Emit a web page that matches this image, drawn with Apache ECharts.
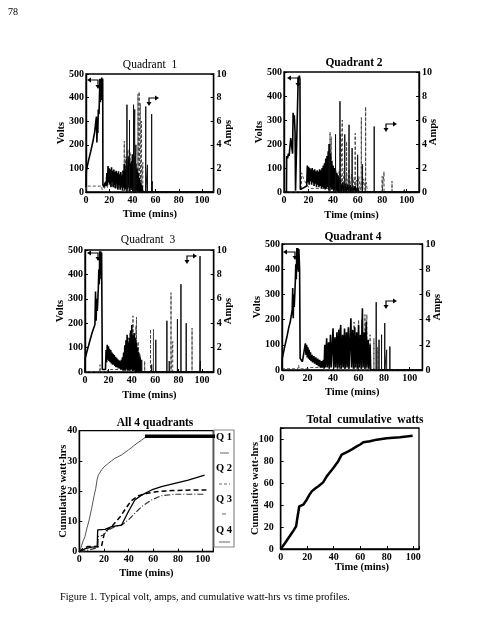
<!DOCTYPE html>
<html><head><meta charset="utf-8">
<script src="https://cdn.jsdelivr.net/npm/echarts@6.0.0/dist/echarts.min.js"></script>
<style>html,body{margin:0;padding:0;background:#fff}#c{width:500px;height:638px}</style>
</head><body><div id="c"></div><script>
// ---------- DATA (time in minutes) ----------
const xTicks = [0, 20, 40, 60, 80, 100];
// Quadrant 1
const q1Volts = [[0,20],[0.3,90],[2,130],[4,170],[6,215],[7.5,255],[8.5,300],[9,320],[9.4,210],[9.8,300],[10.2,250],[10.6,350],[11.2,330],[11.6,400],[12,480],[12.4,380],[12.8,480],[13.2,390],[13.6,485],[14,400],[14.4,480],[14.6,30],[15.5,20],[16.5,40],[17.5,25],[18,80],[18.5,30],[19,110],[19.5,40],[20,100],[20.5,35],[21,95],[21.5,20],[22,105],[22.5,40],[23,90],[23.5,20],[24,95],[24.5,30],[25,85],[25.5,15],[26,90],[26.5,35],[27,80],[27.5,10],[28,88],[28.5,30],[29,75],[29.5,10],[30,85],[30.5,25],[31,70],[31.5,5],[32,90],[32.5,20],[33,120],[33.5,10],[34,100],[34.5,15],[35,140],[35.5,10],[36,110],[36.5,20],[37,150],[37.5,5],[38,120],[38.5,15],[39,130],[39.5,10],[40,160],[40.5,5],[41,140],[41.5,10],[42,150],[42.5,0],[43,120],[43.5,5],[44,100],[44.5,0],[45,80],[45.5,0],[46,60],[46.5,0],[47,40],[47.5,0],[48,30],[49,0],[110,0]];
const q1VSpikeT = [35.3, 37.5, 41, 42, 43, 51.5, 53, 56.6, 57.2];
const q1VSpikeV = [370, 305, 370, 350, 200, 362, 115, 330, 45];
const q1Amps = [[0,0.2],[0.3,0.5],[13.5,0.5],[13.8,0.2],[14.5,0.1],[16,0.3],[18,1.5],[18.5,0.3],[19.5,1.9],[20.5,0.5],[21.5,1.7],[22.5,0.4],[23.5,1.6],[24.5,0.3],[25.5,1.7],[26.5,0.4],[27.5,1.6],[28.5,0.3],[29.5,1.5],[30.5,0.3],[31.5,1.8],[32.5,0.3],[34,2.2],[35,0.3],[36,2.6],[37,0.2],[38,2.4],[39,0.2],[40,2.0],[41,0.1],[43,1.5],[44,0],[110,0]];
const q1ASpikeT = [33, 34.5, 36.2, 38, 39.2, 44.8, 45.8, 46.8, 47.8, 49];
const q1ASpikeA = [4.3, 3.0, 3.6, 3.4, 2.6, 8.3, 8.5, 7.5, 6.0, 2.5];
// Quadrant 2
const q2Volts = [[0,0],[2,0],[2.2,150],[3,140],[3.5,160],[4.2,150],[4.5,170],[5.2,165],[5.5,225],[6.2,220],[6.7,230],[7,160],[7.4,330],[8,300],[8.4,320],[9,250],[9.4,5],[11,5],[11.6,480],[12,470],[12.5,485],[13,470],[13.3,10],[14,5],[18.5,25],[19,110],[19.5,40],[20,105],[20.5,30],[21,100],[21.5,45],[22,95],[22.5,30],[23,100],[23.5,40],[24,90],[24.5,25],[25,95],[25.5,35],[26,85],[26.5,20],[27,90],[27.5,30],[28,85],[28.5,20],[29,95],[29.5,25],[30,90],[30.5,15],[31,100],[31.5,20],[32,110],[32.5,15],[33,120],[33.5,10],[34,140],[34.5,15],[35,150],[35.5,20],[36,170],[36.5,10],[37,200],[37.5,20],[38,160],[38.5,10],[39,130],[39.5,10],[40,110],[40.5,5],[41,100],[41.5,5],[42,90],[42.5,5],[43,80],[43.5,0],[44,70],[44.5,0],[45,60],[45.5,0],[46,50],[46.5,0],[48,40],[48.5,0],[50,35],[50.5,0],[52,30],[52.5,0],[54,30],[54.5,0],[56,25],[56.5,0],[58,25],[58.5,0],[60,20],[61,0],[110,0]];
const q2VSpikeT = [36.7, 42, 45.6, 49.5, 53, 55.5, 60, 64, 73.5, 98];
const q2VSpikeV = [200, 240, 378, 240, 280, 183, 155, 115, 273, 10];
const q2Amps = [[0,0],[14,0],[14.4,1.6],[16,1.1],[18,0.7],[20,0.4],[22,0.3],[40,0.3],[41,1.2],[42,0.2],[43,1.5],[44,0.3],[45,1.8],[46,0.2],[47,1.4],[48,0.3],[49,2.0],[50,0.2],[51,1.6],[52,0.3],[53,1.9],[54,0.2],[55,1.5],[56,0.3],[57,1.2],[58,0.2],[59,1.0],[60,0.2],[61,1.3],[62,0.1],[63,0.9],[64,0.1],[65,1.1],[66,0.1],[67,0.8],[68,0],[110,0]];
const q2ASpikeT = [37.5, 38.5, 46, 47.5, 51, 58, 63, 66.5, 80, 81.5, 88];
const q2ASpikeA = [5.0, 4.6, 4.8, 6.0, 4.2, 4.9, 6.2, 7.1, 1.3, 1.7, 0.9];
// Quadrant 3
const q3Volts = [[0,0],[0.2,57],[2,90],[4,125],[6,160],[8.5,195],[9,330],[9.5,210],[10,300],[10.5,250],[11.4,343],[11.8,420],[12.2,360],[12.6,495],[13,400],[13.4,495],[13.8,380],[14.2,490],[14.8,10],[16,5],[17.5,10],[18,90],[18.5,40],[19,112],[19.5,50],[20,105],[20.5,45],[21,95],[21.5,40],[22,90],[22.5,35],[23,80],[23.5,30],[24,75],[24.5,30],[25,70],[25.5,25],[26,62],[26.5,20],[27,58],[27.5,20],[28,52],[28.5,15],[29,48],[29.5,15],[30,44],[30.5,10],[31,50],[31.5,10],[32,60],[32.5,5],[33,80],[33.5,5],[34,110],[34.5,5],[35,130],[35.5,10],[36,153],[36.5,5],[37,120],[37.5,5],[38,140],[38.5,5],[39,170],[39.5,10],[40,193],[40.5,5],[41,150],[41.5,5],[42,160],[42.5,5],[43,140],[43.5,0],[44,120],[44.5,0],[45,100],[45.5,0],[46,80],[46.5,0],[47,60],[48,0],[110,0]];
const q3VSpikeT = [48.5, 57, 60.5, 70, 72, 79, 82, 86.5, 98.3, 98.6];
const q3VSpikeV = [50, 30, 132, 210, 45, 217, 360, 200, 475, 45];
const q3Amps = [[0,0],[12.5,0],[12.8,0.6],[13.2,0],[18,0],[20,0.2],[30,0.2],[33,0.3],[34,2.0],[34.5,0.3],[35.5,2.5],[36,0.4],[37,2.8],[37.5,0.3],[38.5,3.2],[39,0.3],[40,3.6],[40.5,0.2],[42,3.0],[42.5,0.3],[43.5,3.8],[44.5,0.3],[45.5,2.5],[46,0.2],[47,1.5],[47.5,0],[110,0]];
const q3ASpikeT = [41, 44, 51, 56, 58.5, 73.5, 75, 91.5];
const q3ASpikeA = [4.6, 4.5, 0.9, 3.5, 3.5, 6.5, 2.5, 3.6];
// Quadrant 4
const q4Volts = [[0,0],[0.2,46],[2,90],[4,135],[5.2,166],[6.5,192],[8,240],[8.4,325],[8.8,205],[9.2,300],[9.6,250],[10.4,345],[10.8,420],[11.2,360],[11.6,484],[12,400],[12.4,484],[12.8,390],[13.2,480],[13.8,400],[14.2,46],[15,40],[16,33],[17.5,30],[18.3,106],[18.8,60],[19.3,100],[19.8,50],[20.3,90],[20.8,45],[21.3,80],[21.8,40],[22.3,70],[22.8,35],[23.5,60],[24,30],[25,55],[25.5,25],[26.5,50],[27,20],[28,45],[28.5,15],[29.5,40],[30,10],[31,35],[31.5,10],[32.5,40],[33,5],[33.5,100],[34,10],[35,126],[35.5,10],[36.5,110],[37,5],[38,140],[38.5,10],[40,166],[40.5,5],[41.5,130],[42,10],[43,150],[43.5,5],[44.5,160],[45,10],[46,179],[46.5,5],[47.5,140],[48,10],[49,165],[49.5,5],[50.5,150],[51,10],[52,170],[52.5,5],[54,205],[54.5,10],[55.5,160],[56,5],[57,170],[57.5,10],[58.5,150],[59,5],[60,180],[60.5,10],[61.5,140],[62,5],[63,245],[63.5,10],[64.5,150],[65,5],[66,190],[66.5,10],[67.5,120],[68,5],[69,100],[69.5,0],[110,0]];
const q4VSpikeT = [73.8, 76, 78, 80.5, 82, 84.5];
const q4VSpikeV = [269, 120, 140, 186, 80, 93];
const q4Amps = [[0,0.1],[12.5,0.1],[13,0.4],[13.5,0.1],[20,0.1],[22,0.2],[32,0.2],[33,0],[110,0]];
const q4ASpikeT = [45.5, 49, 52, 56.5, 60, 62.5, 65, 66.5, 69, 72, 75];
const q4ASpikeA = [3.3, 3.0, 3.0, 3.8, 4.0, 4.0, 4.4, 4.4, 2.8, 2.5, 1.8];
// Cumulative watt-hrs per quadrant
const cumQ1 = [[0,0],[1.5,1.5],[3,3.5],[4.6,5],[6,7.5],[8,10.5],[10,14.3],[12,18.5],[13.3,20.9],[14.5,24],[15.4,25.3],[18,27],[20,28],[23.5,29.2],[26,30],[28.9,30.9],[31,31.3],[34.3,32],[37,32.8],[39.7,33.6],[42,34.3],[45,35.3],[48,36.2],[50.5,36.9],[53.2,37.7],[55,38],[57,38.2]];
const cumQ1Flat = [[53.2,38.2],[110,38.2]];
const cumQ2 = [[0,0],[3,1],[7,1.7],[18,1.8],[19.5,1.9],[20.5,6.5],[26,8.2],[33,11.5],[38,14.5],[42,16.8],[48,18.5],[55,19.3],[62,19.8],[75,20.2],[90,20.4],[103,20.4]];
const cumQ3 = [[0,0],[6,0.4],[12.7,1.1],[15,1.2],[15.4,5],[19.5,5.5],[23.5,7.2],[28.9,8.3],[34.3,8.8],[39.7,10.5],[45,12.7],[50.5,14.9],[58.6,17.1],[66.6,18.5],[77.4,19],[101.6,19]];
const cumQ4 = [[0,0],[5,1],[10,1.5],[14.5,1.6],[14.9,7.2],[20.8,7.4],[26.2,8.3],[34.3,8.8],[39.7,13.2],[45,17.1],[50.5,18.7],[58.6,20.4],[66.6,21.5],[77.4,22.6],[88.3,23.7],[101.6,25.3]];
const cumTotal = [[0,0],[3.3,5.5],[7,12],[9.5,16.5],[11.6,20.6],[12.8,30],[14,38.8],[17,40.3],[19.6,44.8],[21.5,49],[23.4,52.4],[26,55],[28.4,57],[32,60.6],[34.7,66],[37,69.5],[39.7,73.6],[43,79],[46,85.8],[48,87],[51,88.8],[54,90.8],[57.3,93.3],[60,95],[62.3,97],[67.3,97.9],[72.4,99.4],[79.9,100.6],[90,101.5],[99.5,103]];

// ---------- helpers ----------
const F = 'Liberation Serif';
function spikes(ts, vs) { const d = []; ts.forEach((t, i) => { d.push([t, 0], [t, vs[i]], [t, 0]); }); return d; }
const lbl = (extra) => Object.assign({ fontFamily: F, fontWeight: 'bold', fontSize: 10, color: '#000' }, extra || {});
const axLine = { show: true, lineStyle: { color: '#000', width: 1.4 } };
const tick = { show: true, inside: true, length: 3, lineStyle: { color: '#000' } };
const xFmt = v => (xTicks.indexOf(v) >= 0 ? String(v) : '');

const grids = [
  { left: 86, top: 74, width: 127.6, height: 118 },
  { left: 284, top: 72, width: 135, height: 120 },
  { left: 85, top: 250, width: 128.7, height: 122 },
  { left: 282, top: 244, width: 140.4, height: 126 },
  { left: 79.3, top: 430.7, width: 134, height: 121 },
  { left: 280.7, top: 428, width: 138.3, height: 121 }
].map(g => Object.assign({ show: true, borderColor: '#000', borderWidth: 1.3, backgroundColor: 'transparent' }, g));

const xMax = [110, 110, 110, 110, 108.6, 104.3];
const xGap = [17, 18, 18, 17, 16, 13];
const xAxis = xMax.map((m, i) => ({
  type: 'value', gridIndex: i, min: 0, max: m, interval: 20,
  name: 'Time (mins)', nameLocation: 'middle', nameGap: xGap[i], nameMoveOverlap: false,
  nameTextStyle: lbl({ fontSize: 10.5, padding: i === 5 ? [0, 0, 0, 24] : 0 }),
  axisLine: axLine, axisTick: tick, splitLine: { show: false },
  axisLabel: lbl({ margin: 3, formatter: xFmt })
}));

const yAxis = [];
for (let i = 0; i < 4; i++) {
  yAxis.push({
    type: 'value', gridIndex: i, min: 0, max: 500, interval: 100, position: 'left',
    name: 'Volts', nameLocation: 'middle', nameGap: 19, nameRotate: 90, nameMoveOverlap: false,
    nameTextStyle: lbl({ fontSize: 10.5 }),
    axisLine: axLine, axisTick: tick, splitLine: { show: false },
    axisLabel: lbl({ margin: 2 })
  });
  yAxis.push({
    type: 'value', gridIndex: i, min: 0, max: 10, interval: 2, position: 'right',
    name: 'Amps', nameLocation: 'middle', nameGap: 9, nameRotate: 90, nameMoveOverlap: false,
    nameTextStyle: lbl({ fontSize: 10.5 }),
    axisLine: axLine, axisTick: tick, splitLine: { show: false },
    axisLabel: lbl({ margin: 3 })
  });
}
yAxis.push({
  type: 'value', gridIndex: 4, min: 0, max: 40, interval: 10,
  name: 'Cumulative watt-hrs', nameLocation: 'middle', nameGap: 11, nameRotate: 90, nameMoveOverlap: false,
  nameTextStyle: lbl({ fontSize: 10.5 }),
  axisLine: axLine, axisTick: tick, splitLine: { show: false }, axisLabel: lbl({ margin: 2 })
});
yAxis.push({
  type: 'value', gridIndex: 5, min: 0, max: 110, interval: 20,
  name: 'Cumulative watt-hrs', nameLocation: 'middle', nameGap: 19.5, nameRotate: 90, nameMoveOverlap: false,
  nameTextStyle: lbl({ fontSize: 10.5 }),
  axisLine: axLine, axisTick: tick, splitLine: { show: false },
  axisLabel: lbl({ margin: 7, formatter: v => (v <= 100 ? String(v) : '') })
});

const quads = [
  [q1Volts, q1VSpikeT, q1VSpikeV, q1Amps, q1ASpikeT, q1ASpikeA],
  [q2Volts, q2VSpikeT, q2VSpikeV, q2Amps, q2ASpikeT, q2ASpikeA],
  [q3Volts, q3VSpikeT, q3VSpikeV, q3Amps, q3ASpikeT, q3ASpikeA],
  [q4Volts, q4VSpikeT, q4VSpikeV, q4Amps, q4ASpikeT, q4ASpikeA]
];
const series = [];
const base = { type: 'line', showSymbol: false, symbol: 'none', animation: false, silent: true };
quads.forEach((q, i) => {
  series.push(Object.assign({}, base, { xAxisIndex: i, yAxisIndex: 2 * i + 1, data: q[3], lineStyle: { color: '#555', width: 1, type: [3, 2] } }));
  series.push(Object.assign({}, base, { xAxisIndex: i, yAxisIndex: 2 * i + 1, data: spikes(q[4], q[5]), lineStyle: { color: '#444', width: 1, type: [3, 2] } }));
  series.push(Object.assign({}, base, { xAxisIndex: i, yAxisIndex: 2 * i, data: q[0], lineStyle: { color: '#000', width: 1.6 } }));
  series.push(Object.assign({}, base, { xAxisIndex: i, yAxisIndex: 2 * i, data: spikes(q[1], q[2]), lineStyle: { color: '#111', width: 1 } }));
});
series.push(Object.assign({}, base, { name: 'Q1', xAxisIndex: 4, yAxisIndex: 8, data: cumQ1, lineStyle: { color: '#555', width: 1 } }));
series.push(Object.assign({}, base, { name: 'Q1', xAxisIndex: 4, yAxisIndex: 8, data: cumQ1Flat, lineStyle: { color: '#000', width: 3.5 } }));
series.push(Object.assign({}, base, { name: 'Q2', xAxisIndex: 4, yAxisIndex: 8, data: cumQ2, lineStyle: { color: '#000', width: 1.5, type: [5, 3] } }));
series.push(Object.assign({}, base, { name: 'Q3', xAxisIndex: 4, yAxisIndex: 8, data: cumQ3, lineStyle: { color: '#333', width: 1.2, type: [6, 2, 1, 2] } }));
series.push(Object.assign({}, base, { name: 'Q4', xAxisIndex: 4, yAxisIndex: 8, data: cumQ4, lineStyle: { color: '#000', width: 1.3 } }));
series.push(Object.assign({}, base, { name: 'Total', xAxisIndex: 5, yAxisIndex: 9, data: cumTotal, lineStyle: { color: '#000', width: 2.5 } }));

// titles
const tStyle = (w) => ({ fontFamily: F, fontSize: 11.5, fontWeight: w, color: '#000' });
const titles = [
  { text: 'Quadrant  1', left: 150, top: 59, w: 'normal' },
  { text: 'Quadrant 2', left: 354, top: 57, w: 'bold' },
  { text: 'Quadrant  3', left: 148, top: 234, w: 'normal' },
  { text: 'Quadrant 4', left: 353, top: 231, w: 'bold' },
  { text: 'All 4 quadrants', left: 155, top: 417, w: 'bold' },
  { text: 'Total  cumulative  watts', left: 365, top: 414, w: 'bold' }
].map(t => ({ text: t.text, left: t.left, top: t.top, textAlign: 'center', padding: 0, textStyle: tStyle(t.w) }));
titles.push({ text: '78', left: 8, top: 7, padding: 0, textStyle: { fontFamily: F, fontSize: 10, fontWeight: 'normal', color: '#000' } });
titles.push({ text: 'Figure 1. Typical volt, amps, and cumulative watt-hrs vs time profiles.', left: 60, top: 592, padding: 0, textStyle: { fontFamily: F, fontSize: 10.3, fontWeight: 'normal', color: '#000' } });

// arrows (annotations)
function leftArrow(xl, xr, yt, yb) {
  return [
    { type: 'polyline', shape: { points: [[xl + 3, yt], [xr, yt], [xr, yb - 3]] }, style: { stroke: '#000', lineWidth: 1.2, fill: null } },
    { type: 'polygon', shape: { points: [[xl, yt], [xl + 4, yt - 2.5], [xl + 4, yt + 2.5]] }, style: { fill: '#000' } },
    { type: 'polygon', shape: { points: [[xr, yb], [xr - 2.5, yb - 4], [xr + 2.5, yb - 4]] }, style: { fill: '#000' } }
  ];
}
function rightArrow(xl, xr, yt, yb) {
  return [
    { type: 'polyline', shape: { points: [[xl, yb - 3], [xl, yt], [xr - 3, yt]] }, style: { stroke: '#000', lineWidth: 1.2, fill: null } },
    { type: 'polygon', shape: { points: [[xr, yt], [xr - 4, yt - 2.5], [xr - 4, yt + 2.5]] }, style: { fill: '#000' } },
    { type: 'polygon', shape: { points: [[xl, yb], [xl - 2.5, yb - 4], [xl + 2.5, yb - 4]] }, style: { fill: '#000' } }
  ];
}
const graphic = [].concat(
  leftArrow(87, 98, 80, 89), rightArrow(149, 159, 98, 106),
  leftArrow(287, 298, 78, 87), rightArrow(386, 397, 124, 132),
  leftArrow(87, 98, 253, 261), rightArrow(187, 197, 256, 264),
  leftArrow(283, 295, 252, 260), rightArrow(386, 397, 301, 309)
);
// legend box for "All 4 quadrants"
const legendNames = ['Q 1', 'Q 2', 'Q 3', 'Q 4'];
graphic.push({ type: 'rect', shape: { x: 214, y: 430, width: 20, height: 117 }, style: { stroke: '#888', lineWidth: 1.2, fill: null } });
const legY = [437, 468, 499, 530];
const legLineY = [453, 484, 514, 542];
const legDash = [null, [3, 2], null, null];
const legLen = [[220, 229], [219, 230], [222, 226], [219, 230]];
legendNames.forEach((n, i) => {
  graphic.push({ type: 'text', x: 224, y: legY[i], style: { text: n, fontFamily: F, fontWeight: 'bold', fontSize: 10.5, fill: '#000', align: 'center', verticalAlign: 'middle' } });
  graphic.push({ type: 'line', shape: { x1: legLen[i][0], y1: legLineY[i], x2: legLen[i][1], y2: legLineY[i] }, style: { stroke: '#666', lineWidth: 1, lineDash: legDash[i] } });
});

const chart = echarts.init(document.getElementById('c'), null, { renderer: 'canvas' });
chart.setOption({
  animation: false, backgroundColor: '#fff',
  title: titles, grid: grids, xAxis: xAxis, yAxis: yAxis, series: series, graphic: graphic
});
</script></body></html>
